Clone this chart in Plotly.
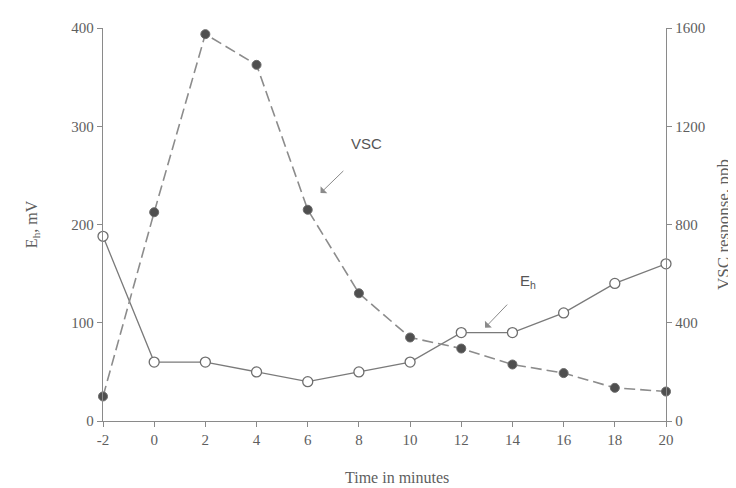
import plotly.graph_objects as go

time_min = [-2, 0, 2, 4, 6, 8, 10, 12, 14, 16, 18, 20]
eh_mv = [188, 60, 60, 50, 40, 50, 60, 90, 90, 110, 140, 160]
vsc_ppb = [100, 850, 1575, 1450, 860, 520, 340, 295, 230, 195, 135, 120]

x_ticks = [-2, 0, 2, 4, 6, 8, 10, 12, 14, 16, 18, 20]
x_tick_text = ["-2", "0", "2", "4", "6", "8", "10", "12", "14", "16", "18", "20"]
left_ticks = [0, 100, 200, 300, 400]
right_ticks = [0, 400, 800, 1200, 1600]

axis_col = "#8a8a8a"
text_col = "#5e5e5e"
serif = "Liberation Serif"
sans = "Liberation Sans"

fig = go.Figure()

fig.add_trace(go.Scatter(
    x=time_min, y=vsc_ppb, yaxis="y2", mode="lines+markers",
    line=dict(color="#8c8c8c", width=1.6, dash="11px,5px"),
    marker=dict(symbol="circle", size=9, color="#4f4f4f",
                line=dict(color="#6a6a6a", width=1)),
    showlegend=False, cliponaxis=False,
))
fig.add_trace(go.Scatter(
    x=time_min, y=eh_mv, mode="lines+markers",
    line=dict(color="#7a7a7a", width=1.3),
    marker=dict(symbol="circle", size=10, color="white",
                line=dict(color="#6e6e6e", width=1.3)),
    showlegend=False, cliponaxis=False,
))

axis_common = dict(
    showgrid=False, zeroline=False, showline=True, linecolor=axis_col,
    linewidth=1.3, ticks="outside", ticklen=5, tickcolor=axis_col,
    tickfont=dict(family=serif, size=15, color=text_col),
)

fig.update_layout(
    width=736, height=488,
    margin=dict(l=95, r=78, t=20, b=75),
    paper_bgcolor="white", plot_bgcolor="white",
    xaxis=dict(range=[-2, 20], tickvals=x_ticks, ticktext=x_tick_text, **axis_common),
    yaxis=dict(range=[0, 400], tickvals=left_ticks, **axis_common),
    yaxis2=dict(range=[0, 1600], tickvals=right_ticks, overlaying="y",
                side="right", **axis_common),
)

annotations = [
    # axis titles
    dict(text="E<sub>h</sub>, mV", xref="paper", yref="paper", x=-0.125, y=0.5,
         textangle=-90, showarrow=False, xanchor="center", yanchor="middle",
         font=dict(family=serif, size=16, color=text_col)),
    dict(text="VSC response, ppb", xref="paper", yref="paper", x=1.102, y=0.5,
         textangle=-90, showarrow=False, xanchor="center", yanchor="middle",
         font=dict(family=serif, size=17, color=text_col)),
    dict(text="Time in minutes", xref="paper", yref="paper", x=0.522, y=-0.145,
         showarrow=False, xanchor="center", yanchor="middle",
         font=dict(family=serif, size=16, color=text_col)),
    # series labels
    dict(text="VSC", x=8.3, y=282, xref="x", yref="y", showarrow=False,
         font=dict(family=sans, size=15, color="#555555")),
    dict(text="E<sub>h</sub>", x=14.6, y=142, xref="x", yref="y", showarrow=False,
         font=dict(family=sans, size=15, color="#555555")),
    # arrows
    dict(text="", x=6.5, y=232, ax=7.45, ay=256, xref="x", yref="y",
         axref="x", ayref="y", showarrow=True, arrowhead=1, arrowsize=1.6,
         arrowwidth=1, arrowcolor="#8a8a8a"),
    dict(text="", x=12.93, y=95, ax=13.85, ay=120, xref="x", yref="y",
         axref="x", ayref="y", showarrow=True, arrowhead=1, arrowsize=1.6,
         arrowwidth=1, arrowcolor="#8a8a8a"),
]
fig.update_layout(annotations=annotations)

fig.write_html("out.html")
